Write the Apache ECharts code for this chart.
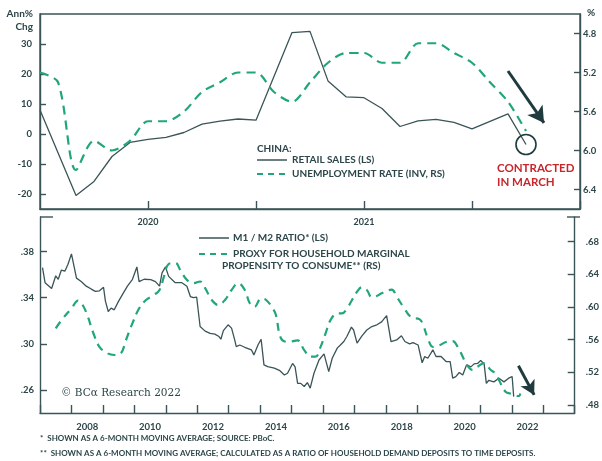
<!DOCTYPE html>
<html>
<head>
<meta charset="utf-8">
<script src="https://cdn.jsdelivr.net/npm/echarts@6/dist/echarts.min.js"></script>
<style>
  html, body { margin: 0; padding: 0; background: #fff; }
  #chart { width: 602px; height: 461px; }
</style>
</head>
<body>
<div id="chart"></div>
<script>
  // top panel: monthly, Dec 2019 .. Jun 2022
  const months = [
    '2019-12', '2020-01', '2020-02', '2020-03', '2020-04', '2020-05', '2020-06',
    '2020-07', '2020-08', '2020-09', '2020-10', '2020-11', '2020-12',
    '2021-01', '2021-02', '2021-03', '2021-04', '2021-05', '2021-06',
    '2021-07', '2021-08', '2021-09', '2021-10', '2021-11', '2021-12',
    '2022-01', '2022-02', '2022-03', '2022-04', '2022-05', '2022-06'
  ]
  const retailSales = [
    8.0, null, -20.5, -15.8, -7.5, -2.8, -1.8, -1.1, 0.5, 3.3, 4.3, 5.0, 4.6,
    null, 33.8, 34.2, 17.7, 12.4, 12.1, 8.5, 2.5, 4.4, 4.9, 3.9, 1.7,
    null, 6.7, -3.5
  ]
  const unemploymentRate = [
    5.2, 5.3, 6.2, 5.9, 6.0, 5.9, 5.7, 5.7, 5.6, 5.4, 5.3, 5.2, 5.2,
    5.4, 5.5, 5.3, 5.1, 5.0, 5.0, 5.1, 5.1, 4.9, 4.9, 5.0, 5.1,
    5.3, 5.5, 5.8
  ]
  const topLeftTicks = [-20, -10, 0, 10, 20, 30]
  const topRightTicks = [4.8, 5.2, 5.6, 6.0, 6.4]
  const topYearLabels = ['2020-06', '2021-06']

  // bottom panel: decimal years
  const m1m2Years = [
    2007.08, 2007.16, 2007.37, 2007.50, 2007.58, 2007.68, 2007.79, 2007.89, 2008.00, 2008.16,
    2008.31, 2008.47, 2008.63, 2008.76, 2008.89, 2009.02, 2009.08, 2009.17, 2009.26, 2009.36,
    2009.50, 2009.68, 2009.78, 2009.94, 2010.08, 2010.15, 2010.31, 2010.52, 2010.67, 2010.80,
    2010.88, 2010.99, 2011.09, 2011.30, 2011.51, 2011.67, 2011.78, 2011.88, 2011.98, 2012.09,
    2012.25, 2012.41, 2012.56, 2012.69, 2012.75, 2012.83, 2012.98, 2013.09, 2013.19, 2013.24,
    2013.35, 2013.51, 2013.72, 2013.80, 2013.93, 2014.03, 2014.12, 2014.24, 2014.45, 2014.61,
    2014.77, 2014.87, 2015.03, 2015.11, 2015.19, 2015.29, 2015.40, 2015.50, 2015.59, 2015.71,
    2015.87, 2016.03, 2016.18, 2016.29, 2016.45, 2016.55, 2016.66, 2016.76, 2016.90, 2016.97,
    2017.08, 2017.23, 2017.39, 2017.55, 2017.71, 2017.86, 2018.02, 2018.16, 2018.34, 2018.49,
    2018.60, 2018.75, 2018.86, 2019.02, 2019.15, 2019.23, 2019.33, 2019.49, 2019.59, 2019.75,
    2019.91, 2020.04, 2020.12, 2020.22, 2020.33, 2020.44, 2020.56, 2020.70, 2020.80, 2020.91,
    2021.01, 2021.12, 2021.19, 2021.27, 2021.43, 2021.59, 2021.75, 2021.90, 2022.01, 2022.06
  ]
  const m1m2Ratio = [
    .366, .353, .348, .359, .356, .364, .363, .369, .378, .357,
    .354, .350, .3475, .3455, .346, .349, .337, .328, .331, .3295,
    .337, .3455, .350, .356, .3667, .354, .356, .3556, .354, .350,
    .3615, .3667, .3585, .353, .353, .350, .341, .340, .3406, .315,
    .311, .309, .3084, .3063, .304, .3115, .3165, .3136, .3034, .2976,
    .299, .297, .2948, .2904, .299, .304, .2817, .2802, .279, .277,
    .273, .2745, .283, .280, .2657, .2657, .263, .2664, .2616, .2745,
    .286, .2913, .2759, .2875, .2963, .299, .302, .3066, .3145, .312,
    .3006, .3066, .312, .315, .3165, .319, .3244, .302, .3034, .307,
    .302, .300, .3011, .299, .2836, .289, .2875, .2948, .289, .289,
    .2846, .2846, .2702, .2716, .2751, .273, .2817, .280, .2826, .283,
    .2855, .2826, .2657, .2684, .267, .2702, .267, .2702, .2716, .2542
  ]
  const mpcYears = [
    2007.50, 2007.73, 2008.00, 2008.21, 2008.36, 2008.52, 2008.68, 2008.89, 2009.15, 2009.36,
    2009.57, 2009.73, 2009.94, 2010.15, 2010.36, 2010.62, 2010.80, 2010.94, 2011.09, 2011.30,
    2011.46, 2011.67, 2011.88, 2012.09, 2012.25, 2012.46, 2012.67, 2012.88, 2013.09, 2013.30,
    2013.51, 2013.67, 2013.82, 2014.03, 2014.19, 2014.40, 2014.50, 2014.66, 2014.87, 2015.19,
    2015.40, 2015.61, 2015.76, 2015.92, 2016.08, 2016.24, 2016.45, 2016.60, 2016.76, 2016.92,
    2017.08, 2017.23, 2017.39, 2017.55, 2017.71, 2017.86, 2018.18, 2018.34, 2018.55, 2018.81,
    2019.07, 2019.18, 2019.33, 2019.49, 2019.70, 2019.91, 2020.12, 2020.28, 2020.44, 2020.54,
    2020.75, 2020.91, 2021.12, 2021.33, 2021.48, 2021.59, 2021.80, 2022.01, 2022.22, 2022.27
  ]
  const mpcProxy = [
    .5737, .586, .598, .6075, .602, .588, .5695, .551, .543, .541,
    .543, .559, .580, .598, .608, .6145, .6206, .637, .6524, .654,
    .645, .633, .629, .631, .623, .6084, .6023, .6084, .6206, .629,
    .6206, .6043, .600, .6104, .6084, .598, .590, .5615, .557, .559,
    .547, .539, .539, .551, .5676, .584, .592, .592, .598, .6084,
    .6185, .624, .6206, .6117, .6133, .6166, .621, .6124, .600, .587,
    .5847, .5778, .5615, .551, .553, .557, .558, .551, .539, .531,
    .5227, .5267, .531, .5227, .5186, .5104, .4961, .4933, .4908, .494
  ]
  const bottomLeftTicks = [.26, .30, .34, .38]
  const bottomRightTicks = [.48, .52, .56, .60, .64, .68]
  const bottomYearLabels = [2008, 2010, 2012, 2014, 2016, 2018, 2020, 2022]

  const ink = '#2c4649'
  const lineDark = '#3a5457'
  const green = '#21a67a'
  const font = 'Lato'

  const chart = echarts.init(document.getElementById('chart'), null, { renderer: 'canvas' })

  const tickLabel = (extra) => Object.assign({
    color: ink, fontFamily: font, fontWeight: 'bold', fontSize: 9.5
  }, extra)
  const axisLine = { onZero: false, lineStyle: { color: lineDark, width: 1.4 } }
  const trim = v => v.toFixed(2).replace(/^0/, '')

  const txt = (x, y, text, extra) => ({
    type: 'text', x: x, y: y, silent: true,
    style: Object.assign({
      text: text, fill: ink, fontFamily: font, fontSize: 10, fontWeight: 'bold',
      textVerticalAlign: 'middle'
    }, extra)
  })
  const seg = (x1, y1, x2, y2, stroke, width, dash) => ({
    type: 'line', silent: true,
    shape: { x1: x1, y1: y1, x2: x2, y2: y2 },
    style: { stroke: stroke, lineWidth: width, lineDash: dash || null }
  })

  const option = {
    animation: false,
    backgroundColor: '#fff',
    grid: [
      { left: 40, right: 22, top: 14, height: 195, show: true, borderColor: lineDark, borderWidth: 1.4 },
      { left: 40, right: 22, top: 217, height: 196 }
    ],
    xAxis: [{
      gridIndex: 0,
      type: 'category',
      data: months,
      boundaryGap: false,
      axisLine: axisLine,
      axisTick: {
        inside: true, length: 8, lineStyle: { color: lineDark, width: 1.4 },
        interval: (i, v) => i > 0 && (v.endsWith('-06') || v.endsWith('-12'))
      },
      axisLabel: tickLabel({
        fontSize: 9, margin: 9,
        interval: (i, v) => topYearLabels.includes(v),
        formatter: v => v.slice(0, 4)
      }),
      splitLine: { show: false }
    }, {
      gridIndex: 1,
      type: 'value',
      min: 2007, max: 2024, interval: 1,
      axisLine: axisLine,
      axisTick: { inside: true, length: 8, lineStyle: { color: lineDark, width: 1.4 } },
      axisLabel: tickLabel({
        fontSize: 9.5, margin: 9,
        customValues: bottomYearLabels.map(y => y + 0.5),
        formatter: v => String(Math.floor(v))
      }),
      splitLine: { show: false }
    }],
    yAxis: [{
      gridIndex: 0, type: 'value', min: -25, max: 40,
      axisLine: { show: true, onZero: false, lineStyle: axisLine.lineStyle },
      axisTick: { show: true, inside: true, length: 6, customValues: topLeftTicks, lineStyle: { color: lineDark, width: 1.4 } },
      axisLabel: tickLabel({ customValues: topLeftTicks, margin: 8 }),
      splitLine: { show: false }
    }, {
      gridIndex: 0, type: 'value', position: 'right', inverse: true, min: 4.6, max: 6.6,
      axisLine: { show: true, onZero: false, lineStyle: axisLine.lineStyle },
      axisTick: { show: true, inside: true, length: 6, customValues: topRightTicks, lineStyle: { color: lineDark, width: 1.4 } },
      axisLabel: tickLabel({ customValues: topRightTicks, margin: 3, formatter: v => v.toFixed(1) }),
      splitLine: { show: false }
    }, {
      gridIndex: 1, type: 'value', min: 0.24, max: 0.41,
      axisLine: { show: true, onZero: false, lineStyle: axisLine.lineStyle },
      axisTick: { show: true, inside: true, length: 7, customValues: bottomLeftTicks, lineStyle: { color: lineDark, width: 1.4 } },
      axisLabel: tickLabel({ customValues: bottomLeftTicks, margin: 6, formatter: trim }),
      splitLine: { show: false }
    }, {
      gridIndex: 1, type: 'value', position: 'right', min: 0.47, max: 0.71,
      axisLine: { show: true, onZero: false, lineStyle: axisLine.lineStyle },
      axisTick: { show: true, inside: true, length: 7, customValues: bottomRightTicks, lineStyle: { color: lineDark, width: 1.4 } },
      axisLabel: tickLabel({ customValues: bottomRightTicks, margin: 11, formatter: trim }),
      splitLine: { show: false }
    }],
    series: [{
      name: 'Retail sales',
      type: 'line',
      xAxisIndex: 0, yAxisIndex: 0,
      data: retailSales,
      connectNulls: true,
      showSymbol: false,
      lineStyle: { color: lineDark, width: 1.3 },
      markPoint: {
        silent: true,
        symbol: 'circle',
        symbolSize: 20,
        itemStyle: { color: 'rgba(0,0,0,0)', borderColor: '#1f3b3e', borderWidth: 1.6 },
        label: { show: false },
        data: [{ coord: [27, retailSales[27]] }]
      },
      markLine: {
        silent: true,
        symbol: ['none', 'arrow'],
        symbolSize: [14, 16],
        label: { show: false },
        lineStyle: { color: '#1f3b3e', width: 3, type: 'solid' },
        data: [[{ coord: [26, 21] }, { coord: [28, 3.7] }]]
      }
    }, {
      name: 'Unemployment rate',
      type: 'line',
      xAxisIndex: 0, yAxisIndex: 1,
      data: unemploymentRate,
      showSymbol: false,
      smooth: 0.3,
      lineStyle: { color: green, width: 2.2, type: [9, 6] }
    }, {
      name: 'M1/M2 ratio',
      type: 'line',
      xAxisIndex: 1, yAxisIndex: 2,
      data: m1m2Years.map((y, i) => [y, m1m2Ratio[i]]),
      showSymbol: false,
      lineStyle: { color: lineDark, width: 1.3 },
      markLine: {
        silent: true,
        symbol: ['none', 'arrow'],
        symbolSize: [12, 14],
        label: { show: false },
        lineStyle: { color: '#1f3b3e', width: 3, type: 'solid' },
        data: [[{ coord: [2022.21, 0.281] }, { coord: [2022.71, 0.2557] }]]
      }
    }, {
      name: 'MPC proxy',
      type: 'line',
      xAxisIndex: 1, yAxisIndex: 3,
      data: mpcYears.map((y, i) => [y, mpcProxy[i]]),
      showSymbol: false,
      smooth: 0.4,
      lineStyle: { color: green, width: 2.2, type: [8, 6] }
    }],
    graphic: [
      // axis units
      txt(33, 14, 'Ann%', { textAlign: 'right', fontSize: 10 }),
      txt(33, 27, 'Chg', { textAlign: 'right', fontSize: 10 }),
      txt(587, 13, '%', { fontSize: 10 }),
      // top legend
      txt(257, 149, 'CHINA:'),
      seg(257, 160, 287, 160, lineDark, 1.5),
      txt(292, 160, 'RETAIL SALES (LS)'),
      seg(257, 174, 287, 174, green, 2, [6, 5]),
      txt(292, 174, 'UNEMPLOYMENT RATE (INV, RS)'),
      // annotation
      txt(497, 168, 'CONTRACTED', { fill: '#c8262c', fontSize: 11.5 }),
      txt(497, 182, 'IN MARCH', { fill: '#c8262c', fontSize: 11.5 }),
      // bottom panel caps
      seg(40, 217, 53, 217, lineDark, 1.4),
      seg(567, 217, 580, 217, lineDark, 1.4),
      // bottom legend
      seg(199, 238, 229, 238, lineDark, 1.5),
      txt(233, 238, 'M1 / M2 RATIO* (LS)'),
      seg(199, 254, 229, 254, green, 2, [6, 5]),
      txt(233, 254, 'PROXY FOR HOUSEHOLD MARGINAL'),
      txt(222, 266, 'PROPENSITY TO CONSUME** (RS)'),
      txt(61, 393, '\u00a9 BC\u03b1 Research 2022', { fontFamily: 'DejaVu Serif', fontSize: 10.5, fontWeight: 'normal' }),
      // footnotes
      txt(40, 438, '*  SHOWN AS A 6-MONTH MOVING AVERAGE; SOURCE: PBoC.', { fontSize: 8 }),
      txt(40, 453, '**  SHOWN AS A 6-MONTH MOVING AVERAGE; CALCULATED AS A RATIO OF HOUSEHOLD DEMAND DEPOSITS TO TIME DEPOSITS.', { fontSize: 8 })
    ]
  }

  chart.setOption(option)
</script>
</body>
</html>
